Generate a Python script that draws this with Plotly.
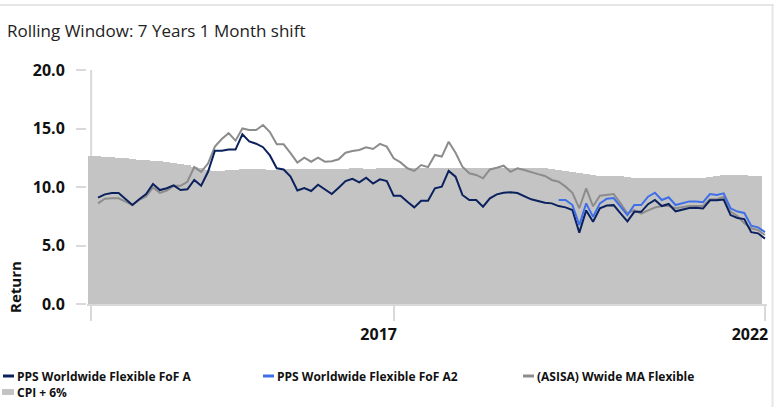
import plotly.graph_objects as go

# ---------------- data ----------------
point_index = list(range(98))

pps_a = [9.09, 9.37, 9.49, 9.49, 8.98, 8.46, 8.95, 9.4, 10.26, 9.74,
         9.89, 10.14, 9.74, 9.8, 10.6, 10.11, 11.3, 13.1, 13.1, 13.2,
         13.2, 14.5, 13.9, 13.7, 13.4, 12.7, 11.6, 11.5, 10.9, 9.7,
         9.9, 9.66, 10.2, 9.8, 9.4, 9.94, 10.5, 10.7, 10.4, 10.8,
         10.3, 10.66, 10.5, 9.26, 9.26, 8.74, 8.26, 8.83, 8.83, 9.89,
         10.03, 11.37, 10.88, 9.32, 8.89, 8.89, 8.32, 9.03, 9.37, 9.51,
         9.55, 9.49, 9.23, 8.95, 8.8, 8.66, 8.6, 8.37, 8.26, 8.03,
         6.1, 8.0, 7.03, 8.18, 8.42, 8.45, 7.75, 7.06, 7.88, 7.88,
         8.53, 8.89, 8.37, 8.55, 7.92, 8.06, 8.2, 8.23, 8.16, 8.86,
         8.86, 8.93, 7.6, 7.35, 7.26, 6.14, 6.04, 5.59]

pps_a2 = [None] * 67 + [
         8.89, 8.89, 8.46, 6.75, 8.6, 7.45, 8.6, 9.0, 9.06, 8.37,
         7.6, 8.46, 8.46, 9.17, 9.51, 8.89, 9.12, 8.46, 8.6, 8.77,
         8.77, 8.7, 9.4, 9.32, 9.46, 8.18, 7.9, 7.78, 6.7, 6.55,
         6.15]

asisa = [8.6, 9.0, 9.03, 9.03, 8.75, 8.46, 8.9, 9.2, 9.97, 9.5,
         9.7, 10.1, 10.1, 10.45, 11.7, 11.3, 12.0, 13.45, 14.1, 14.6,
         13.96, 15.0, 14.87, 14.87, 15.3, 14.7, 13.65, 13.65, 12.9, 12.08,
         12.5, 12.16, 12.5, 12.16, 12.2, 12.37, 12.93, 13.08, 13.16, 13.4,
         13.25, 13.68, 13.45, 12.45, 12.1, 11.6, 11.37, 11.88, 11.7, 12.74,
         12.6, 13.87, 12.93, 11.74, 11.17, 11.03, 10.74, 11.5, 11.65, 11.82,
         11.3, 11.6, 11.45, 11.25, 11.1, 10.94, 10.6, 10.45, 10.03, 9.51,
         8.18, 9.89, 8.35, 9.25, 9.3, 9.4, 8.6, 7.75, 8.03, 7.72,
         8.0, 8.25, 8.37, 8.37, 8.18, 8.26, 8.37, 8.37, 8.37, 8.95,
         8.95, 9.17, 7.9, 7.52, 6.9, 6.47, 6.32, 5.9]

cpi_plus_6 = [12.65, 12.65, 12.6, 12.55, 12.5, 12.45, 12.4, 12.35, 12.3, 12.25,
              12.2, 12.1, 12.05, 11.95, 11.85, 11.75, 11.6, 11.45, 11.4, 11.4,
              11.45, 11.45, 11.5, 11.5, 11.5, 11.5, 11.45, 11.45, 11.5, 11.5,
              11.5, 11.55, 11.55, 11.5, 11.5, 11.5, 11.55, 11.55, 11.6, 11.6,
              11.55, 11.55, 11.6, 11.6, 11.6, 11.6, 11.6, 11.6, 11.6, 11.6,
              11.6, 11.6, 11.6, 11.6, 11.6, 11.6, 11.6, 11.6, 11.6, 11.6,
              11.6, 11.6, 11.6, 11.6, 11.6, 11.6, 11.6, 11.5, 11.45, 11.35,
              11.3, 11.2, 11.1, 11.0, 10.95, 10.95, 10.95, 10.9, 10.85, 10.8,
              10.8, 10.75, 10.75, 10.75, 10.75, 10.75, 10.75, 10.75, 10.75, 10.8,
              10.85, 10.9, 11.0, 11.0, 11.05, 11.0, 10.95, 10.95]

x_tick_positions = [-1, 43, 97]
x_tick_labels = ["", "2017", "2022"]
y_tick_values = [0, 5, 10, 15, 20]

series_names = ["PPS Worldwide Flexible FoF A", "PPS Worldwide Flexible FoF A2",
                "(ASISA) Wwide MA Flexible", "CPI + 6%"]
series_colors = ["#0b215e", "#3f6fe8", "#8c8c8c", "#c4c4c4"]

title_text = "Rolling Window: 7 Years 1 Month shift"
y_title = "Return"

# ---------------- figure ----------------
fig = go.Figure()

fig.add_trace(go.Bar(x=point_index, y=cpi_plus_6, name=series_names[3],
                     width=1, offset=-1.5,
                     marker=dict(color=series_colors[3], line=dict(width=0))))
fig.add_trace(go.Scatter(x=point_index, y=asisa, name=series_names[2], mode="lines",
                         line=dict(color=series_colors[2], width=2)))
fig.add_trace(go.Scatter(x=point_index, y=pps_a, name=series_names[0], mode="lines",
                         line=dict(color=series_colors[0], width=2)))
fig.add_trace(go.Scatter(x=point_index, y=pps_a2, name=series_names[1], mode="lines",
                         line=dict(color=series_colors[1], width=2)))

W, H = 774, 407
L, R, T, B = 87, 7, 70, 103
PW, PH = W - L - R, H - T - B


def px_x(p):
    return (p - L) / PW


def px_y(p):
    return (H - B - p) / PH


axis_grey = "#d9d9d9"
sans = "Open Sans, Noto Sans, sans-serif"

fig.update_layout(
    width=W, height=H,
    margin=dict(l=L, r=R, t=T, b=B),
    paper_bgcolor="white", plot_bgcolor="white",
    showlegend=False, bargap=0,
    title=dict(text=title_text, xref="container", yref="container",
               x=7 / W, xanchor="left", y=1 - 31 / H, yanchor="middle",
               font=dict(family=sans, size=17, color="#222222")),
    xaxis=dict(range=[-1.6, 97.3], tickmode="array", tickvals=x_tick_positions,
               ticktext=x_tick_labels, ticks="outside", ticklen=15, tickwidth=2,
               tickcolor=axis_grey, showline=True, linecolor=axis_grey, linewidth=2,
               showgrid=False, zeroline=False, ticklabelshift=-15, ticklabelstandoff=0,
               tickfont=dict(family=sans, size=16, color="#111111", weight="bold")),
    yaxis=dict(range=[0, 20], tickmode="array", tickvals=y_tick_values,
               tickformat=".1f", ticks="outside", ticklen=10, tickwidth=2,
               tickcolor=axis_grey, showline=False, showgrid=False, zeroline=False,
               ticklabelstandoff=8,
               tickfont=dict(family=sans, size=16, color="#111111", weight="bold")),
)

# vertical y-axis line (sits at first tick, behind the area)
fig.add_shape(type="line", xref="x", yref="y", x0=x_tick_positions[0], x1=x_tick_positions[0],
              y0=0, y1=20, line=dict(color=axis_grey, width=2), layer="below")

# container border (top and right)
fig.add_shape(type="line", xref="paper", yref="paper", x0=px_x(0), x1=px_x(W),
              y0=px_y(5), y1=px_y(5), line=dict(color="#e6e6e6", width=2))
fig.add_shape(type="line", xref="paper", yref="paper", x0=px_x(772.5), x1=px_x(772.5),
              y0=px_y(5), y1=px_y(H), line=dict(color="#e6e6e6", width=2))

# y-axis title
fig.add_annotation(text=y_title, xref="paper", yref="paper", x=px_x(15), y=px_y(287),
                   xanchor="center", yanchor="middle", textangle=-90, showarrow=False,
                   font=dict(family=sans, size=15, color="#111111", weight="bold"))

# legend
legend_pos = [(3, 376), (263, 376), (523, 376), (3, 392)]
for k, (name, color) in enumerate(zip(series_names, series_colors)):
    lx, ly = legend_pos[k]
    if k < 3:
        fig.add_shape(type="line", xref="paper", yref="paper",
                      x0=px_x(lx), x1=px_x(lx + 11), y0=px_y(ly), y1=px_y(ly),
                      line=dict(color=color, width=3))
    else:
        fig.add_shape(type="rect", xref="paper", yref="paper",
                      x0=px_x(lx - 1), x1=px_x(lx + 11), y0=px_y(ly - 3), y1=px_y(ly + 3),
                      line=dict(width=0), fillcolor=color)
    fig.add_annotation(text=name, xref="paper", yref="paper", x=px_x(lx + 12), y=px_y(ly),
                       xanchor="left", yanchor="middle", showarrow=False,
                       font=dict(family=sans, size=12, color="#111111", weight="bold"))

fig.write_html("out.html", config={"displayModeBar": False},
               post_script="document.body.style.margin='0px';document.body.style.overflow='hidden';")
